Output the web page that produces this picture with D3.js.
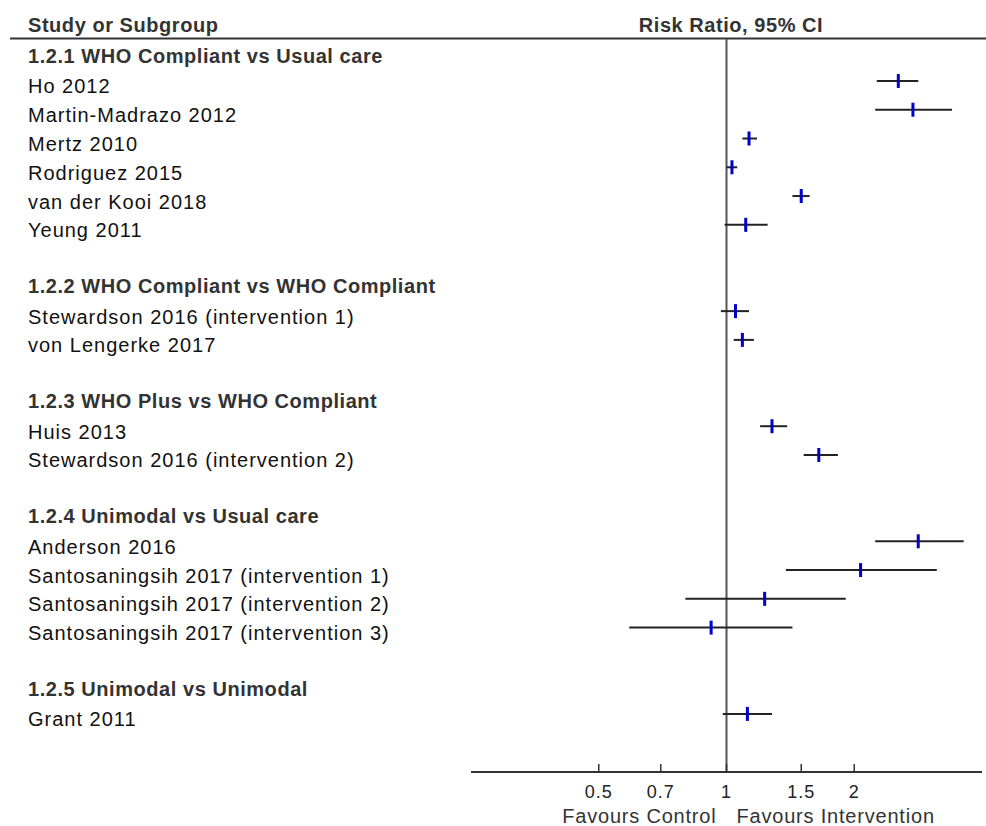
<!DOCTYPE html>
<html>
<head>
<meta charset="utf-8">
<script src="https://cdn.jsdelivr.net/npm/d3@7/dist/d3.min.js"></script>
<style>
  html, body { margin: 0; padding: 0; background: #fff; }
  svg { display: block; }
  .study { font-family: "Liberation Sans", Arial, sans-serif; font-size: 20px; letter-spacing: 1px; fill: #111; }
  .head { font-family: "Liberation Sans", Arial, sans-serif; font-size: 20px; font-weight: bold; letter-spacing: 0.55px; fill: #333; }
  .tick-label { font-family: "Liberation Sans", Arial, sans-serif; font-size: 18px; letter-spacing: 1px; fill: #222; }
</style>
</head>
<body>
<svg id="chart" width="986" height="826"></svg>
<script>
// subgroups and their studies (row order)
var groups = [
  '1.2.1 WHO Compliant vs Usual care',
  '1.2.2 WHO Compliant vs WHO Compliant',
  '1.2.3 WHO Plus vs WHO Compliant',
  '1.2.4 Unimodal vs Usual care',
  '1.2.5 Unimodal vs Unimodal'
];
var studyGroup = [0, 0, 0, 0, 0, 0, 1, 1, 2, 2, 3, 3, 3, 3, 4];
var studies = [
  'Ho 2012', 'Martin-Madrazo 2012', 'Mertz 2010', 'Rodriguez 2015', 'van der Kooi 2018', 'Yeung 2011',
  'Stewardson 2016 (intervention 1)', 'von Lengerke 2017',
  'Huis 2013', 'Stewardson 2016 (intervention 2)',
  'Anderson 2016', 'Santosaningsih 2017 (intervention 1)', 'Santosaningsih 2017 (intervention 2)', 'Santosaningsih 2017 (intervention 3)',
  'Grant 2011'
];
var riskRatio = [2.54, 2.75, 1.13, 1.03, 1.50, 1.11, 1.05, 1.09, 1.28, 1.65, 2.83, 2.07, 1.23, 0.92, 1.12];
var lower     = [2.26, 2.24, 1.09, 1.00, 1.43, 0.99, 0.97, 1.04, 1.20, 1.52, 2.24, 1.38, 0.80, 0.59, 0.98];
var upper     = [2.83, 3.40, 1.18, 1.06, 1.57, 1.25, 1.13, 1.16, 1.39, 1.83, 3.62, 3.13, 1.91, 1.43, 1.28];
var tickValues = [0.5, 0.7, 1, 1.5, 2];
var tickLabels = ['0.5', '0.7', '1', '1.5', '2'];

// build the row list: header, studies, blank line between groups
var rows = [];
groups.forEach(function(g, gi) {
  if (gi > 0) rows.push({ type: 'blank' });
  rows.push({ type: 'head', label: g });
  studies.forEach(function(s, i) {
    if (studyGroup[i] === gi) {
      rows.push({ type: 'study', label: s, rr: riskRatio[i], lo: lower[i], hi: upper[i] });
    }
  });
});

var svg = d3.select('#chart');

var x = d3.scaleLog().domain([0.25, 4]).range([471, 982]);
var y = d3.scaleLinear().domain([0, 1]).range([52.2, 52.2 + 28.77]);
var axisY = 772;

// column headers
svg.append('text').attr('class', 'head').attr('x', 28).attr('y', 31.5).text('Study or Subgroup');
svg.append('text').attr('class', 'head').attr('x', 731).attr('y', 31.5)
  .attr('text-anchor', 'middle').text('Risk Ratio, 95% CI');
svg.append('line')
  .attr('x1', 10).attr('x2', 986).attr('y1', 38.5).attr('y2', 38.5)
  .attr('stroke', '#333').attr('stroke-width', 2);

// line of no effect
svg.append('line')
  .attr('x1', x(1)).attr('x2', x(1)).attr('y1', 39).attr('y2', axisY)
  .attr('stroke', '#555').attr('stroke-width', 2);

// row labels
rows.forEach(function(r, k) {
  if (r.type === 'head') {
    svg.append('text').attr('class', 'head').attr('x', 28).attr('y', y(k) + 10.5).text(r.label);
  } else if (r.type === 'study') {
    svg.append('text').attr('class', 'study').attr('x', 28).attr('y', y(k) + 12.5).text(r.label);
  }
});

var studyRows = rows.map(function(r, k) { r.k = k; return r; })
  .filter(function(r) { return r.type === 'study'; });

// confidence intervals
svg.selectAll('.ci').data(studyRows).join('line')
  .attr('class', 'ci')
  .attr('x1', function(d) { return x(d.lo); })
  .attr('x2', function(d) { return x(d.hi); })
  .attr('y1', function(d) { return y(d.k); })
  .attr('y2', function(d) { return y(d.k); })
  .attr('stroke', '#222').attr('stroke-width', 2);

// point estimates
svg.selectAll('.pt').data(studyRows).join('rect')
  .attr('class', 'pt')
  .attr('x', function(d) { return x(d.rr) - 1.5; })
  .attr('y', function(d) { return y(d.k) - 7; })
  .attr('width', 3).attr('height', 14)
  .attr('fill', '#0000cc');

// x axis
svg.append('line')
  .attr('x1', x.range()[0]).attr('x2', x.range()[1]).attr('y1', axisY).attr('y2', axisY)
  .attr('stroke', '#333').attr('stroke-width', 2);

svg.selectAll('.tk').data(tickValues).join('line')
  .attr('class', 'tk')
  .attr('x1', function(d) { return x(d); }).attr('x2', function(d) { return x(d); })
  .attr('y1', axisY - 8).attr('y2', axisY)
  .attr('stroke', '#333').attr('stroke-width', 1.5);

svg.selectAll('.tick-label').data(tickValues).join('text')
  .attr('class', 'tick-label')
  .attr('x', function(d) { return x(d); })
  .attr('y', 798)
  .attr('text-anchor', 'middle')
  .text(function(d, i) { return tickLabels[i]; });

svg.append('text').attr('class', 'study').attr('x', x(1) - 10).attr('y', 823)
  .attr('text-anchor', 'end').style('fill', '#333').style('letter-spacing', '0.8px').text('Favours Control');
svg.append('text').attr('class', 'study').attr('x', x(1) + 10).attr('y', 823)
  .style('fill', '#333').style('letter-spacing', '0.8px').text('Favours Intervention');
</script>
</body>
</html>
